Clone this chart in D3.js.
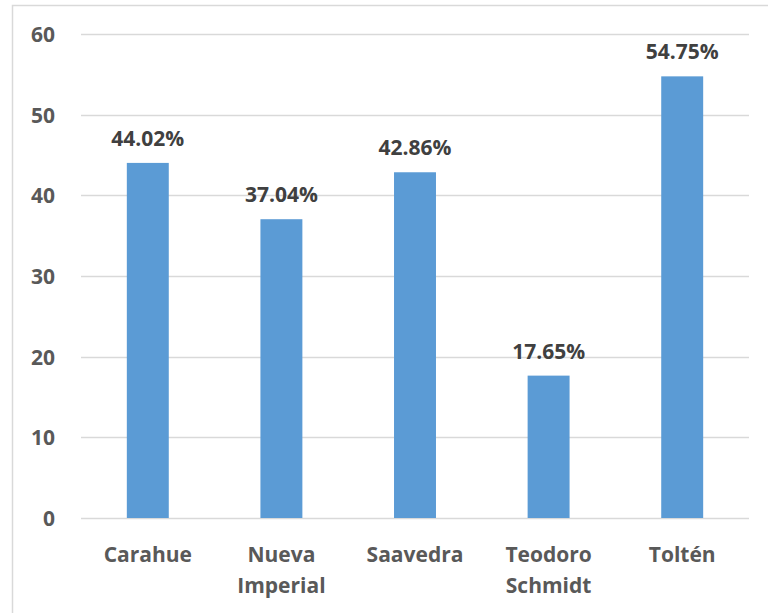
<!DOCTYPE html>
<html>
<head>
<meta charset="utf-8">
<script src="https://cdn.jsdelivr.net/npm/d3@7"></script>
<style>
  html, body { margin: 0; padding: 0; background: #fff; }
  svg { display: block; }
</style>
</head>
<body>
<div id="chart"></div>
<script>
// Chart data.
var categories = [["Carahue"], ["Nueva", "Imperial"], ["Saavedra"], ["Teodoro", "Schmidt"], ["Toltén"]];
var values = [44.02, 37.04, 42.86, 17.65, 54.75];
var labels = ["44.02%", "37.04%", "42.86%", "17.65%", "54.75%"];
var yTicks = [0, 10, 20, 30, 40, 50, 60];

var width = 768, height = 613;
var font = "'Open Sans', Lato, sans-serif";

var svg = d3.select("#chart").append("svg")
    .attr("width", width)
    .attr("height", height);

// Chart area border (runs off the right and bottom edge).
svg.append("rect")
    .attr("x", 12.5).attr("y", 5.5)
    .attr("width", 800).attr("height", 700)
    .attr("fill", "none")
    .attr("stroke", "#d9d9d9")
    .attr("stroke-width", 1.5);

var x = d3.scaleBand()
    .domain(d3.range(values.length))
    .range([81, 749])
    .paddingInner(0.686)
    .paddingOuter(0.343);

var y = d3.scaleLinear()
    .domain([0, 60])
    .range([518, 34]);

// Gridlines.
svg.append("g")
    .selectAll("line")
    .data(yTicks)
    .enter()
    .append("line")
    .attr("x1", 81).attr("x2", 749)
    .attr("y1", d => Math.round(y(d)) + 0.5)
    .attr("y2", d => Math.round(y(d)) + 0.5)
    .attr("stroke", "#d9d9d9")
    .attr("stroke-width", 1.5);

// Y axis labels.
svg.append("g")
    .selectAll("text")
    .data(yTicks)
    .enter()
    .append("text")
    .attr("x", 55)
    .attr("y", d => y(d) + 8)
    .attr("text-anchor", "end")
    .attr("font-family", font)
    .attr("font-weight", "bold")
    .attr("font-size", 21)
    .attr("fill", "#595959")
    .text(d => d);

// Bars.
svg.append("g")
    .selectAll("rect")
    .data(values)
    .enter()
    .append("rect")
    .attr("x", (d, i) => x(i))
    .attr("y", d => y(d))
    .attr("width", x.bandwidth())
    .attr("height", d => y(0) - y(d))
    .attr("fill", "#5b9bd5");

// Data labels.
svg.append("g")
    .selectAll("text")
    .data(values)
    .enter()
    .append("text")
    .attr("x", (d, i) => x(i) + x.bandwidth() / 2)
    .attr("y", d => y(d) - 17)
    .attr("text-anchor", "middle")
    .attr("font-family", font)
    .attr("font-weight", "bold")
    .attr("font-size", 21)
    .attr("fill", "#404040")
    .text((d, i) => labels[i]);

// Category labels.
var cat = svg.append("g")
    .selectAll("text")
    .data(categories)
    .enter()
    .append("text")
    .attr("x", (d, i) => x(i) + x.bandwidth() / 2)
    .attr("y", 562)
    .attr("text-anchor", "middle")
    .attr("font-family", font)
    .attr("font-weight", "bold")
    .attr("font-size", 21)
    .attr("fill", "#595959");

cat.selectAll("tspan")
    .data(d => d)
    .enter()
    .append("tspan")
    .attr("x", function () { return d3.select(this.parentNode).attr("x"); })
    .attr("dy", (d, j) => j === 0 ? 0 : 31)
    .text(d => d);
</script>
</body>
</html>
